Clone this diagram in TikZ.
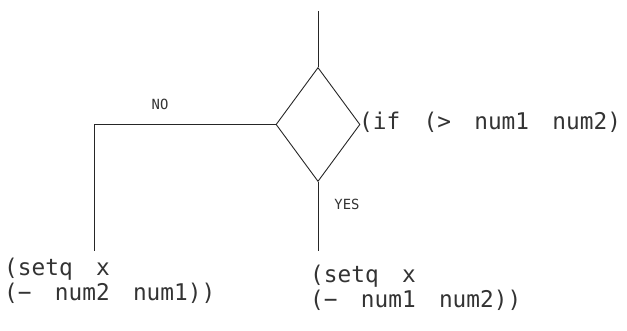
\documentclass[tikz,border=0pt]{standalone}
\usepackage{fontspec}
\usetikzlibrary{shapes.geometric}
\newfontfamily\cadfont[FakeStretch=0.99,WordSpace=1.7]{DejaVu Sans Mono}
\begin{document}
\begin{tikzpicture}[x=1pt,y=-1pt,
  line/.style={draw=black!85,line width=0.9pt},
  decision/.style={draw=black!85,line width=0.9pt,shape=diamond,minimum width=84pt,minimum height=114pt,inner sep=0pt,shape aspect=0.74},
  code/.style={text=black!80,font=\cadfont\fontsize{23}{25.5}\selectfont,align=left,anchor=west,inner sep=0pt},
  lbl/.style={text=black!80,font=\cadfont\fontsize{14}{15}\selectfont,inner sep=0pt}]
\useasboundingbox (0,0) rectangle (627,331);
\node[decision] (d) at (318,124.5) {};
\coordinate (top) at (318,11);
\coordinate (lcorner) at (94,124.5);
\coordinate (lend) at (94,251);
\coordinate (rend) at (318,251);
\draw[line] (top) -- (d.north);
\draw[line] (d.west) -- (lcorner) -- (lend);
\draw[line] (d.south) -- (rend);
\node[code,anchor=base west] (cond) at (359,130) {(if (> num1 num2)};
\node[code] (ltext) at (4,281) {(setq x\\(− num2 num1))};
\node[code] (rtext) at (310,288) {(setq x\\(− num1 num2))};
\node[lbl] (no) at (160,104) {NO};
\node[lbl] (yes) at (347,204) {YES};
\end{tikzpicture}
\end{document}
